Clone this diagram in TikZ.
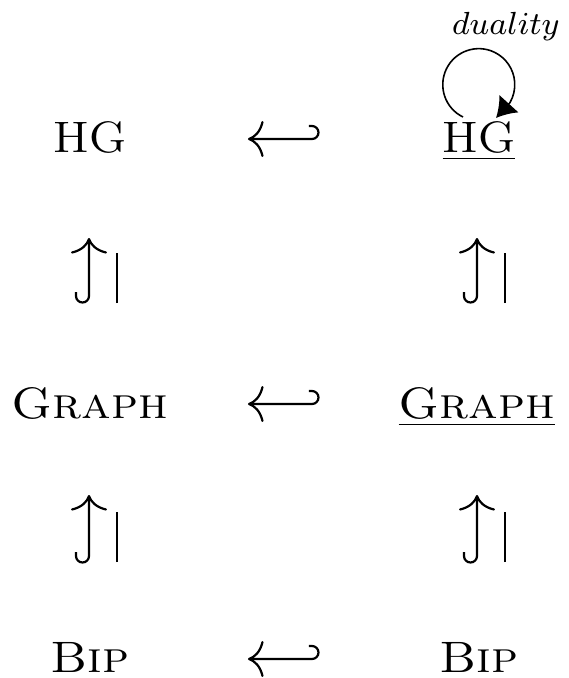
\documentclass[tikz,border=0pt]{standalone}
\usepackage{graphicx}
\usetikzlibrary{arrows.meta,calc}
\newcommand{\widetxt}[1]{\scalebox{1.1}[1]{#1}}
\begin{document}
\begin{tikzpicture}[x=0.25pt,y=-0.25pt,
  lbl/.style={inner sep=0pt,anchor=base,font=\fontsize{11}{13}\selectfont},
  dlbl/.style={inner sep=0pt,anchor=base,font=\fontsize{7.9}{9}\selectfont},
  hookarr/.style={line width=0.55pt,-{Computer Modern Rightarrow[length=3.9pt,width=9pt]}},
  barline/.style={line width=0.45pt},
  dualloop/.style={line width=0.4pt,-{Latex[length=4.8pt,width=6.5pt]}}]
\useasboundingbox (0,0) rectangle (569,678);
% labels
\node[lbl] (hgL) at (90,152) {\widetxt{HG}};
\node[lbl] (hgR) at (479,152) {\widetxt{\underline{HG}}};
\node[lbl] (graphL) at (90,418) {\widetxt{\textsc{Graph}}};
\node[lbl] (graphR) at (477,418) {\widetxt{\underline{\textsc{Graph}}}};
\node[lbl] (bipL) at (90,672) {\widetxt{\textsc{Bip}}};
\node[lbl] (bipR) at (479,672) {\widetxt{\textsc{Bip}}};
\node[dlbl] (dual) at (506,34) {$duality$};
% horizontal hooked arrows (hook on the right, curling upwards)
\draw[hookarr] ($(hgR.base)+(-170,-26)$) -- ++(3,0)
  arc[start angle=270,end angle=450,radius=6.5] -- ($(hgL.base)+(158,-13)$);
\draw[hookarr] ($(graphR.base)+(-168,-27)$) -- ++(3,0)
  arc[start angle=270,end angle=450,radius=6.5] -- ($(graphL.base)+(158,-14)$);
\draw[hookarr] ($(bipR.base)+(-170,-26)$) -- ++(3,0)
  arc[start angle=270,end angle=450,radius=6.5] -- ($(bipL.base)+(158,-13)$);
% vertical hooked arrows (hook at the bottom, curling left)
\draw[hookarr] ($(graphL.base)+(-14,-126)$) -- ++(0,4)
  arc[start angle=180,end angle=0,radius=6.5] -- ($(hgL.base)+(-1,86)$);
\draw[hookarr] ($(graphR.base)+(-13,-126)$) -- ++(0,4)
  arc[start angle=180,end angle=0,radius=6.5] -- ($(graphR.base |- hgR.base)+(0,86)$);
\draw[hookarr] ($(bipL.base)+(-14,-120)$) -- ++(0,4)
  arc[start angle=180,end angle=0,radius=6.5] -- ($(graphL.base)+(-1,77)$);
\draw[hookarr] ($(graphR.base |- bipR.base)+(-13,-120)$) -- ++(0,4)
  arc[start angle=180,end angle=0,radius=6.5] -- ($(graphR.base)+(0,77)$);
% bars
\draw[barline] ($(graphL.base)+(27,-115)$) -- ++(0,-50);
\draw[barline] ($(graphR.base)+(28,-115)$) -- ++(0,-50);
\draw[barline] ($(bipL.base)+(27,-110)$) -- ++(0,-50);
\draw[barline] ($(graphR.base |- bipR.base)+(28,-110)$) -- ++(0,-50);
% duality loop
\draw[dualloop] ($(hgR.base)+(-16,-35)$) arc[start angle=116,end angle=390,radius=36]
  -- ($(hgR.base)+(17,-34)$);
\end{tikzpicture}
\end{document}
